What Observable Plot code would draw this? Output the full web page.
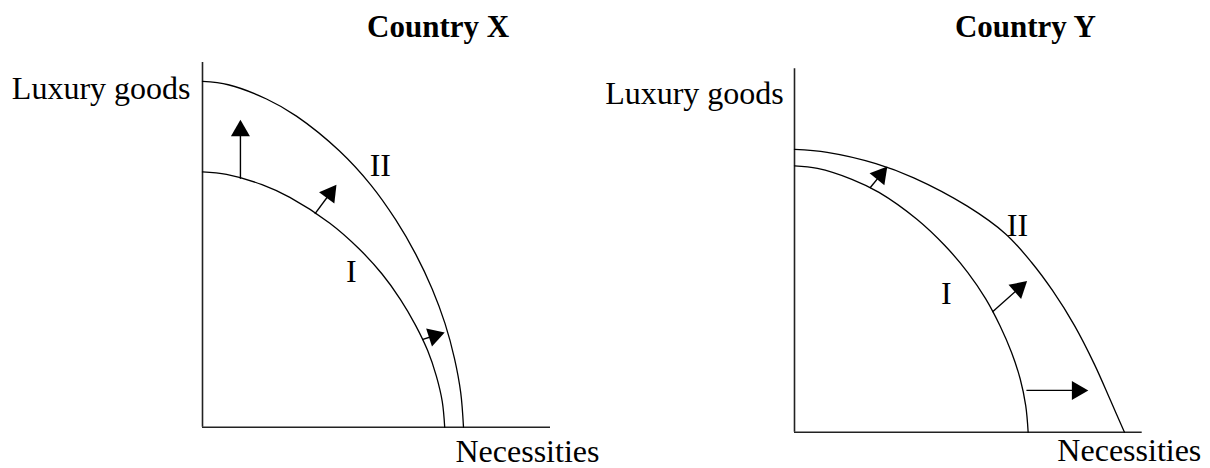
<!DOCTYPE html>
<html><head><meta charset="utf-8">
<script src="https://cdn.jsdelivr.net/npm/d3@7"></script>
<script src="https://cdn.jsdelivr.net/npm/@observablehq/plot@0.6"></script>
<style>
body{margin:0;background:#fff;}
#wrap{display:flex;width:1210px;height:468px;background:#fff;}
#wrap svg{overflow:visible;display:block;}
</style></head><body><div id="wrap"></div>
<script>
// ---- data (necessities %, luxury goods %) ----
const titles = ["Country X", "Country Y"];
const yLabel = "Luxury goods";
const xLabel = "Necessities";
const curveNames = ["I", "II"];

const xCurveI  = [[0,70.0],[6.9,69.3],[17.1,66.5],[25.1,63.0],[36.5,56.0],[44.9,49.0],[51.6,42.0],[56.9,35.0],[61.2,28.0],[64.7,21.0],[67.2,14.0],[68.9,7.0],[69.6,0]];
const xCurveII = [[0,94.8],[7.4,93.9],[18.4,90.0],[27.0,85.3],[39.3,75.8],[48.4,66.4],[55.5,56.9],[61.3,47.4],[66.0,37.9],[69.7,28.4],[72.4,18.9],[74.2,9.5],[75.0,0]];
const xArrows  = [[10.9,68.1,10.9,84.3],[32.3,58.5,38.5,66.5],[63.1,24.0,69.6,26.0]];

const yCurveI  = [[0,73.3],[6.6,72.6],[16.5,69.6],[24.3,66.0],[35.2,58.6],[43.3,51.3],[49.8,44.0],[55.0,36.7],[59.1,29.3],[62.4,22.0],[64.9,14.7],[66.5,7.3],[67.2,0]];
const yCurveII = [[0,77.8],[9.4,77.0],[23.4,73.9],[34.3,70.0],[49.7,62.2],[60.8,54.5],[68.2,46.7],[74.2,39.0],[80.5,29.4],[86.3,18.6],[90.9,8.7],[94.9,0]];
const yArrows  = [[21.7,67.2,26.7,73.1],[56.9,33.1,66.9,41.6],[66.7,11.5,84.5,11.5]];

// ---- layout ----
const H = 468, FONT = "Liberation Serif, Times New Roman, serif";
const panels = [
  {title: titles[0], curves: [xCurveI, xCurveII], arrows: xArrows,
   width: 620, marginLeft: 202, marginRight: 70, marginTop: 62, marginBottom: 41.3,
   titlePos: [67.7, 106.9], yLabPos: [0, 90.0, -12], xLabPos: [72.7, -9.5],
   namePos: [[42.8, 39.8], [51.1, 69.0]]},
  {title: titles[1], curves: [yCurveI, yCurveII], arrows: yArrows,
   width: 590, marginLeft: 174, marginRight: 68.3, marginTop: 68.3, marginBottom: 36.3,
   titlePos: [66.4, 108.7], yLabPos: [0, 90.4, -10.7], xLabPos: [75.6, -8.0],
   namePos: [[43.7, 35.4], [64.1, 54.1]]}
];

const side = 19;
const R = Math.sqrt(side * side * Math.sqrt(3) / 4 / Math.PI);
const cDist = (side * Math.sqrt(3) / 2) * 2 / 3;

function panel(cfg) {
  const xs = Plot.scale({x: {domain: [0, 100], range: [cfg.marginLeft, cfg.width - cfg.marginRight]}});
  const ys = Plot.scale({y: {domain: [0, 100], range: [H - cfg.marginBottom, cfg.marginTop]}});
  const heads = cfg.arrows.map(([x1, y1, x2, y2]) => {
    const px1 = xs.apply(x1), py1 = ys.apply(y1), px2 = xs.apply(x2), py2 = ys.apply(y2);
    const dx = px2 - px1, dy = py2 - py1, L = Math.hypot(dx, dy);
    const ux = dx / L, uy = dy / L;
    return {x1, y1, x: xs.invert(px2 - ux * cDist), y: ys.invert(py2 - uy * cDist),
            a: Math.atan2(dx, -dy) * 180 / Math.PI};
  });
  const lines = cfg.curves.flatMap((c, i) => c.map(([x, y]) => ({x, y, k: curveNames[i]})));
  const names = curveNames.map((n, i) => ({n, x: cfg.namePos[i][0], y: cfg.namePos[i][1]}));
  return Plot.plot({
    width: cfg.width, height: H,
    marginLeft: cfg.marginLeft, marginRight: cfg.marginRight,
    marginTop: cfg.marginTop, marginBottom: cfg.marginBottom,
    x: {domain: [0, 100], axis: null},
    y: {domain: [0, 100], axis: null},
    style: {background: "none", color: "black", overflow: "visible", fontFamily: FONT},
    marks: [
      Plot.ruleX([0], {stroke: "#222", strokeWidth: 1.6}),
      Plot.ruleY([0], {stroke: "#222", strokeWidth: 1.6}),
      Plot.line(lines, {x: "x", y: "y", z: "k", curve: "catmull-rom", stroke: "black", strokeWidth: 1.3}),
      Plot.link(heads, {x1: "x1", y1: "y1", x2: "x", y2: "y", stroke: "black", strokeWidth: 1.4}),
      Plot.dot(heads, {x: "x", y: "y", symbol: "triangle", r: R, rotate: "a", fill: "black"}),
      Plot.text(names, {x: "x", y: "y", text: "n", textAnchor: "middle", lineAnchor: "bottom", fontSize: 32, fontFamily: FONT, fill: "black"}),
      Plot.text([cfg.title], {x: () => cfg.titlePos[0], y: () => cfg.titlePos[1], text: d => d, textAnchor: "middle", lineAnchor: "bottom", fontSize: 31, fontWeight: "bold", fontFamily: FONT, fill: "black"}),
      Plot.text([yLabel], {x: () => cfg.yLabPos[0], y: () => cfg.yLabPos[1], dx: cfg.yLabPos[2], text: d => d, textAnchor: "end", lineAnchor: "bottom", fontSize: 32, fontFamily: FONT, fill: "black"}),
      Plot.text([xLabel], {x: () => cfg.xLabPos[0], y: () => cfg.xLabPos[1], text: d => d, textAnchor: "start", lineAnchor: "bottom", fontSize: 32, fontFamily: FONT, fill: "black"})
    ]
  });
}

const wrap = document.getElementById("wrap");
panels.forEach(p => wrap.appendChild(panel(p)));
</script>
</body></html>
